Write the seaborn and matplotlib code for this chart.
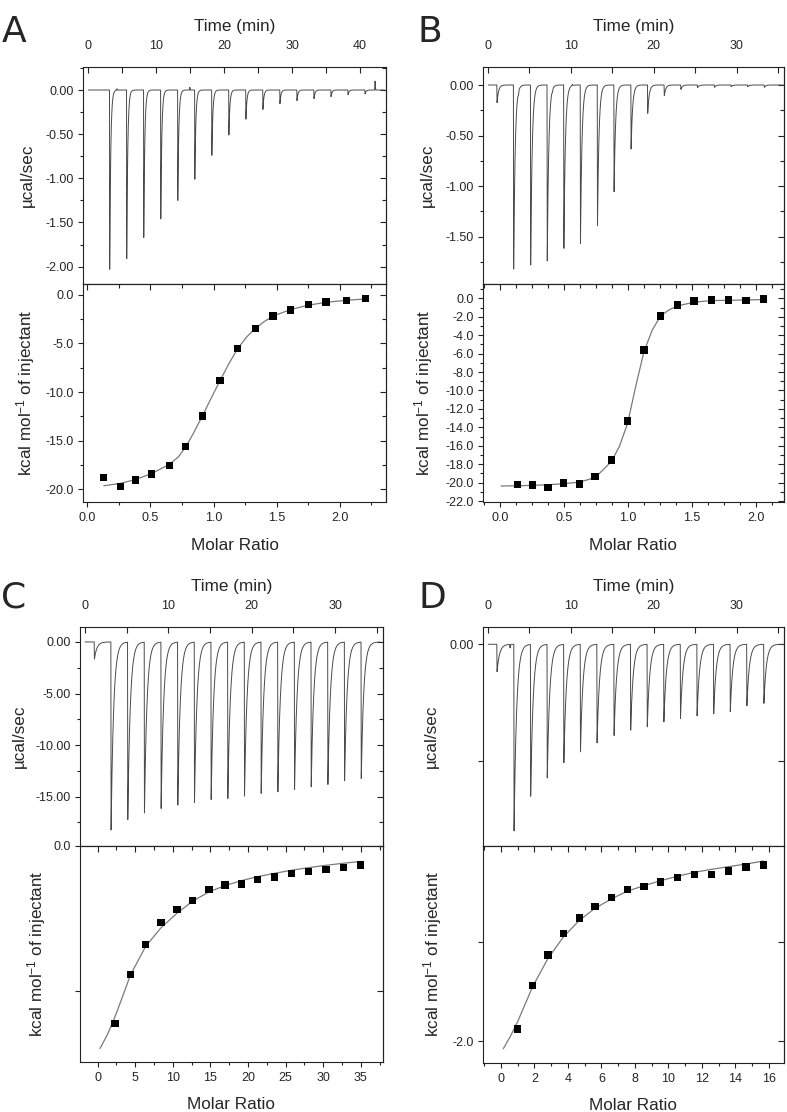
import numpy as np
import matplotlib
matplotlib.use("Agg")
import matplotlib.pyplot as plt
import seaborn as sns
from matplotlib.ticker import FixedLocator, FixedFormatter, MultipleLocator, FormatStrFormatter

sns.set_theme(context="paper", style="ticks")
plt.rcParams["font.family"] = ["Liberation Sans", "DejaVu Sans"]
plt.rcParams["mathtext.fontset"] = "custom"
plt.rcParams["mathtext.rm"] = "Liberation Sans"
plt.rcParams["mathtext.it"] = "Liberation Sans:italic"
plt.rcParams["mathtext.bf"] = "Liberation Sans:bold"
plt.rcParams["axes.unicode_minus"] = False

# ---------------- data ----------------
# Panel A
A_inj_time = [3.2, 5.7, 8.2, 10.7, 13.2, 15.7, 18.2, 20.7, 23.2, 25.7, 28.2, 30.7, 33.2, 35.7, 38.2, 40.7]
A_inj_peak = [-2.03, -1.91, -1.67, -1.46, -1.25, -1.01, -0.74, -0.51, -0.33, -0.22, -0.155, -0.12, -0.098, -0.075, -0.053, -0.045]
A_blip_time = [4.3, 15.0, 42.2]
A_blip_height = [0.015, 0.03, 0.10]
A_ratio = [0.13, 0.26, 0.38, 0.51, 0.65, 0.78, 0.91, 1.05, 1.19, 1.33, 1.47, 1.61, 1.75, 1.89, 2.05, 2.20]
A_heat = [-18.83, -19.76, -19.07, -18.45, -17.56, -15.60, -12.47, -8.80, -5.53, -3.44, -2.16, -1.55, -1.00, -0.72, -0.55, -0.38]
A_fit_x = [0.13, 0.26, 0.38, 0.51, 0.65, 0.72, 0.78, 0.84, 0.91, 0.98, 1.05, 1.12, 1.19, 1.26, 1.33, 1.40, 1.47, 1.61, 1.75, 1.89, 2.05, 2.20]
A_fit_y = [-19.66, -19.42, -19.02, -18.40, -17.45, -16.70, -15.65, -14.25, -12.50, -10.65, -8.85, -7.10, -5.55, -4.35, -3.45, -2.75, -2.18, -1.50, -1.05, -0.76, -0.55, -0.41]

# Panel B
B_inj_time = [1.1, 3.1, 5.15, 7.15, 9.15, 11.15, 13.2, 15.2, 17.25, 19.25, 21.25, 23.25, 25.25, 27.3, 29.3, 31.3, 33.3]
B_inj_peak = [-0.175, -1.82, -1.78, -1.74, -1.615, -1.566, -1.39, -1.055, -0.633, -0.28, -0.105, -0.043, -0.026, -0.023, -0.016, -0.016, -0.023]
B_blip_time = [3.7, 7.8, 10.2]
B_blip_height = [-0.03, -0.02, 0.01]
B_ratio = [0.136, 0.253, 0.373, 0.495, 0.618, 0.741, 0.868, 0.996, 1.124, 1.254, 1.385, 1.515, 1.65, 1.784, 1.922, 2.06]
B_heat = [-20.23, -20.26, -20.52, -20.05, -20.16, -19.36, -17.55, -13.32, -5.61, -1.92, -0.72, -0.29, -0.18, -0.18, -0.22, -0.07]
B_fit_x = [0.005, 0.136, 0.253, 0.373, 0.495, 0.618, 0.741, 0.868, 0.931, 0.996, 1.059, 1.124, 1.189, 1.254, 1.319, 1.385, 1.515, 1.65, 1.784, 1.922, 2.06]
B_fit_y = [-20.37, -20.34, -20.30, -20.23, -20.12, -19.94, -19.47, -17.73, -16.10, -13.57, -9.59, -5.79, -3.44, -1.92, -1.27, -0.83, -0.43, -0.25, -0.22, -0.18, -0.14]

# Panel C
C_inj_time = [1.1, 3.1, 5.1, 7.1, 9.1, 11.1, 13.1, 15.1, 17.1, 19.1, 21.1, 23.1, 25.1, 27.1, 29.1, 31.1, 33.1]
C_inj_peak = [-1.65, -18.23, -17.2, -16.55, -16.13, -15.8, -15.55, -15.26, -15.16, -14.93, -14.67, -14.51, -14.29, -14.03, -13.8, -13.45, -13.22]
C_ratio = [2.30, 4.34, 6.38, 8.42, 10.54, 12.63, 14.80, 16.92, 19.14, 21.27, 23.53, 25.78, 28.04, 30.35, 32.65, 35.0]
C_heat = [-1.224, -0.886, -0.682, -0.531, -0.437, -0.375, -0.304, -0.270, -0.263, -0.233, -0.215, -0.190, -0.178, -0.165, -0.149, -0.133]
C_fit_x = [0.31, 1.3, 2.30, 3.3, 4.34, 6.38, 8.42, 10.54, 12.63, 14.80, 16.92, 19.14, 21.27, 23.53, 25.78, 28.04, 30.35, 32.65, 35.0]
C_fit_y = [-1.396, -1.30, -1.178, -1.04, -0.892, -0.693, -0.565, -0.465, -0.382, -0.318, -0.275, -0.240, -0.213, -0.190, -0.169, -0.151, -0.135, -0.121, -0.108]

# Panel D
D_inj_time = [1.1, 3.15, 5.15, 7.15, 9.15, 11.15, 13.15, 15.2, 17.2, 19.2, 21.2, 23.2, 25.2, 27.2, 29.2, 31.2, 33.25]
D_inj_peak = [-0.234, -1.593, -1.296, -1.140, -1.009, -0.917, -0.840, -0.778, -0.732, -0.704, -0.661, -0.632, -0.610, -0.593, -0.575, -0.524, -0.504]
D_blip_time = [2.7]
D_blip_height = [-0.03]
D_ratio = [0.995, 1.89, 2.81, 3.74, 4.70, 5.61, 6.61, 7.56, 8.54, 9.53, 10.53, 11.54, 12.58, 13.59, 14.63, 15.66]
D_heat = [-1.876, -1.441, -1.134, -0.920, -0.763, -0.649, -0.555, -0.478, -0.445, -0.401, -0.358, -0.328, -0.328, -0.291, -0.251, -0.231]
D_fit_x = [0.14, 0.55, 0.995, 1.89, 2.81, 3.74, 4.70, 5.61, 6.61, 7.56, 8.54, 9.53, 10.53, 11.54, 12.58, 13.59, 14.63, 15.66]
D_fit_y = [-2.074, -1.953, -1.803, -1.452, -1.167, -0.950, -0.783, -0.666, -0.569, -0.492, -0.438, -0.388, -0.344, -0.304, -0.274, -0.247, -0.221, -0.191]

TIME_LABEL = "Time (min)"
RATE_LABEL = "\u00b5cal/sec"
HEAT_LABEL = "kcal mol$^{-1}$ of injectant"
RATIO_LABEL = "Molar Ratio"

# ---------------- helpers ----------------
W, H = 787, 1112
fig = plt.figure(figsize=(W / 100, H / 100), dpi=100)

TRACE = "#4a4a4a"
FIT = "#7a7a7a"
SPINE = "#222222"
TICK_FS = 9
LABEL_FS = 12.3


def axes_px(l, t, r, b):
    return fig.add_axes([l / W, 1 - b / H, (r - l) / W, (b - t) / H])


def thermogram(t0, t1, inj_t, inj_d, tau, blip_t=(), blip_h=()):
    rise = 0.03
    grid = np.arange(t0, t1, 0.004)
    t = np.unique(np.concatenate([grid, np.asarray(inj_t) + rise, np.asarray(blip_t, dtype=float)]))
    y = np.zeros_like(t)
    for ti, d in zip(inj_t, inj_d):
        dt = t - ti
        m1 = (dt >= 0) & (dt < rise)
        y[m1] += d * dt[m1] / rise
        m2 = dt >= rise
        y[m2] += d * np.exp(-(dt[m2] - rise) / tau)
    for tb, hb in zip(blip_t, blip_h):
        dt = np.abs(t - tb)
        m = dt < 0.08
        y[m] += hb * (1 - dt[m] / 0.08)
    return t, y


def style_spines(ax):
    for s in ax.spines.values():
        s.set_color(SPINE)
        s.set_linewidth(0.8)


def mirror_y(ax, major, minor):
    sec = ax.secondary_yaxis("right")
    sec.yaxis.set_major_locator(FixedLocator(major))
    sec.yaxis.set_minor_locator(FixedLocator(minor))
    sec.tick_params(axis="y", which="both", direction="in", labelright=False,
                    color=SPINE, width=0.8)
    sec.tick_params(axis="y", which="major", length=4.2)
    sec.tick_params(axis="y", which="minor", length=2.6)
    sec.spines["right"].set_color(SPINE)
    sec.spines["right"].set_linewidth(0.8)


def mirror_x_top(ax, major, minor):
    sec = ax.secondary_xaxis("top")
    sec.xaxis.set_major_locator(FixedLocator(major))
    sec.xaxis.set_minor_locator(FixedLocator(minor))
    sec.tick_params(axis="x", which="both", direction="in", labeltop=False,
                    color=SPINE, width=0.8)
    sec.tick_params(axis="x", which="major", length=4.2)
    sec.tick_params(axis="x", which="minor", length=2.6)
    sec.spines["top"].set_color(SPINE)
    sec.spines["top"].set_linewidth(0.8)


def setup_top(ax, xlim, ylim, xmaj, xmin, ymaj, ylab, ymin, ylabel_x):
    ax.set_xlim(*xlim)
    ax.set_ylim(*ylim)
    style_spines(ax)
    ax.xaxis.tick_top()
    ax.xaxis.set_major_locator(FixedLocator(xmaj))
    ax.xaxis.set_minor_locator(FixedLocator(xmin))
    ax.xaxis.set_major_formatter(FormatStrFormatter("%d"))
    ax.tick_params(axis="x", which="both", direction="in", top=True, bottom=False,
                   labeltop=True, labelbottom=False, color=SPINE, width=0.8,
                   labelsize=TICK_FS, pad=10.5)
    ax.tick_params(axis="x", which="major", length=4.2)
    ax.tick_params(axis="x", which="minor", length=4.2)
    ax.yaxis.set_major_locator(FixedLocator(ymaj))
    ax.yaxis.set_major_formatter(FixedFormatter(ylab))
    ax.yaxis.set_minor_locator(FixedLocator(ymin))
    ax.tick_params(axis="y", which="both", direction="out", left=True, right=False,
                   color=SPINE, width=0.8, labelsize=TICK_FS, pad=3)
    ax.tick_params(axis="y", which="major", length=3.6)
    ax.tick_params(axis="y", which="minor", length=2.4)
    mirror_y(ax, ymaj, ymin)
    ax.xaxis.set_label_position("top")
    ax.set_xlabel(TIME_LABEL, fontsize=LABEL_FS, va="center")
    ax.xaxis.set_label_coords(0.5, 1.185)
    ax.set_ylabel(RATE_LABEL, fontsize=LABEL_FS, va="center")
    ax.yaxis.set_label_coords(ylabel_x, 0.5)


def setup_bottom(ax, xlim, ylim, xmaj, xlab, xmin, ymaj, ylab, ymin, ylabel_x):
    ax.set_xlim(*xlim)
    ax.set_ylim(*ylim)
    style_spines(ax)
    ax.xaxis.set_major_locator(FixedLocator(xmaj))
    ax.xaxis.set_major_formatter(FixedFormatter(xlab))
    ax.xaxis.set_minor_locator(FixedLocator(xmin))
    ax.tick_params(axis="x", which="both", direction="out", bottom=True, top=False,
                   color=SPINE, width=0.8, labelsize=TICK_FS, pad=3.5)
    ax.tick_params(axis="x", which="major", length=3.6)
    ax.tick_params(axis="x", which="minor", length=2.4)
    ax.yaxis.set_major_locator(FixedLocator(ymaj))
    ax.yaxis.set_major_formatter(FixedFormatter(ylab))
    ax.yaxis.set_minor_locator(FixedLocator(ymin))
    ax.tick_params(axis="y", which="both", direction="out", left=True, right=False,
                   color=SPINE, width=0.8, labelsize=TICK_FS, pad=3)
    ax.tick_params(axis="y", which="major", length=3.6)
    ax.tick_params(axis="y", which="minor", length=2.4)
    mirror_y(ax, ymaj, ymin)
    mirror_x_top(ax, xmaj, xmin)
    ax.set_xlabel(RATIO_LABEL, fontsize=LABEL_FS, va="center")
    ax.xaxis.set_label_coords(0.5, -0.199)
    ax.set_ylabel(HEAT_LABEL, fontsize=LABEL_FS, va="center")
    ax.yaxis.set_label_coords(ylabel_x, 0.5)


def draw_trace(ax, t, y):
    sns.lineplot(x=t, y=y, ax=ax, color=TRACE, linewidth=0.7, estimator=None,
                 sort=False, errorbar=None)


def draw_isotherm(ax, rx, hy, fx, fy):
    sns.lineplot(x=fx, y=fy, ax=ax, color=FIT, linewidth=0.9, estimator=None,
                 sort=False, errorbar=None)
    sns.scatterplot(x=rx, y=hy, ax=ax, marker="s", s=27, color="black",
                    edgecolor="none", linewidth=0, zorder=3)


def frange(a, b, step):
    n = int(round((b - a) / step))
    return [round(a + i * step, 6) for i in range(n + 1)]


# ---------------- Panel A ----------------
axA1 = axes_px(83, 66.7, 386, 284)
axA2 = axes_px(83, 284, 386, 501.7)
t, y = thermogram(0.1, 43.6, A_inj_time, A_inj_peak, 0.15, A_blip_time, A_blip_height)
draw_trace(axA1, t, y)
setup_top(axA1, (-0.69, 43.8), (-2.197, 0.264), [0, 10, 20, 30, 40], frange(0, 45, 5),
          [0, -0.5, -1.0, -1.5, -2.0], ["0.00", "-0.50", "-1.00", "-1.50", "-2.00"],
          [0.25, -0.25, -0.75, -1.25, -1.75], -0.185)
draw_isotherm(axA2, A_ratio, A_heat, A_fit_x, A_fit_y)
setup_bottom(axA2, (-0.034, 2.365), (-21.3, 1.13),
             [0, 0.5, 1.0, 1.5, 2.0], ["0.0", "0.5", "1.0", "1.5", "2.0"], frange(0, 2.25, 0.25),
             [0, -5, -10, -15, -20], ["0.0", "-5.0", "-10.0", "-15.0", "-20.0"],
             [-2.5, -7.5, -12.5, -17.5], -0.191)

# ---------------- Panel B ----------------
axB1 = axes_px(482.7, 66.7, 784, 284)
axB2 = axes_px(482.7, 284, 784, 501.7)
t, y = thermogram(0.08, 35.6, B_inj_time, B_inj_peak, 0.18, B_blip_time, B_blip_height)
draw_trace(axB1, t, y)
setup_top(axB1, (-0.6, 35.7), (-1.968, 0.181), [0, 10, 20, 30], frange(0, 35, 5),
          [0, -0.5, -1.0, -1.5], ["0.00", "-0.50", "-1.00", "-1.50"],
          [-0.25, -0.75, -1.25, -1.75], -0.183)
draw_isotherm(axB2, B_ratio, B_heat, B_fit_x, B_fit_y)
setup_bottom(axB2, (-0.138, 2.22), (-22.07, 1.55),
             [0, 0.5, 1.0, 1.5, 2.0], ["0.0", "0.5", "1.0", "1.5", "2.0"], frange(-0.125, 2.125, 0.125),
             frange(-22, 0, 2), ["%.1f" % v if v != 0 else "0.0" for v in frange(-22, 0, 2)],
             frange(-21, 1, 2), -0.195)

# ---------------- Panel C ----------------
axC1 = axes_px(80, 626.7, 382.7, 845.7)
axC2 = axes_px(80, 845.7, 382.7, 1061.7)
t, y = thermogram(0.0, 35.4, C_inj_time, C_inj_peak, 0.3)
draw_trace(axC1, t, y)
setup_top(axC1, (-0.6, 35.7), (-19.76, 1.48), [0, 10, 20, 30], frange(0, 35, 5),
          [0, -5, -10, -15], ["0.00", "-5.00", "-10.00", "-15.00"],
          [-2.5, -7.5, -12.5, -17.5], -0.2015)
draw_isotherm(axC2, C_ratio, C_heat, C_fit_x, C_fit_y)
setup_bottom(axC2, (-2.35, 37.9), (-1.487, 0.0),
             [0, 5, 10, 15, 20, 25, 30, 35], ["0", "5", "10", "15", "20", "25", "30", "35"],
             frange(-2.5, 37.5, 2.5),
             [0, -1.0], ["0.0", ""], [], -0.145)

# ---------------- Panel D ----------------
axD1 = axes_px(482.7, 626.7, 784, 845.7)
axD2 = axes_px(482.7, 845.7, 784, 1062.7)
t, y = thermogram(0.08, 35.6, D_inj_time, D_inj_peak, 0.3, D_blip_time, D_blip_height)
draw_trace(axD1, t, y)
setup_top(axD1, (-0.6, 35.7), (-1.72, 0.15), [0, 10, 20, 30], frange(0, 35, 5),
          [0, -1.0], ["0.00", ""], [], -0.169)
draw_isotherm(axD2, D_ratio, D_heat, D_fit_x, D_fit_y)
setup_bottom(axD2, (-1.09, 16.9), (-2.214, -0.037),
             frange(0, 16, 2), [str(v) for v in range(0, 17, 2)], frange(-1, 16, 1),
             [-1.0, -2.0], ["", "-2.0"], [], -0.166)

# ---------------- panel letters ----------------
for letter, (px, py) in {"A": (14, 32), "B": (430, 32), "C": (14, 598), "D": (432, 598)}.items():
    fig.text(px / W, 1 - py / H, letter, fontsize=26, family="DejaVu Sans",
             ha="center", va="center")

fig.savefig("out.png", dpi=100)
